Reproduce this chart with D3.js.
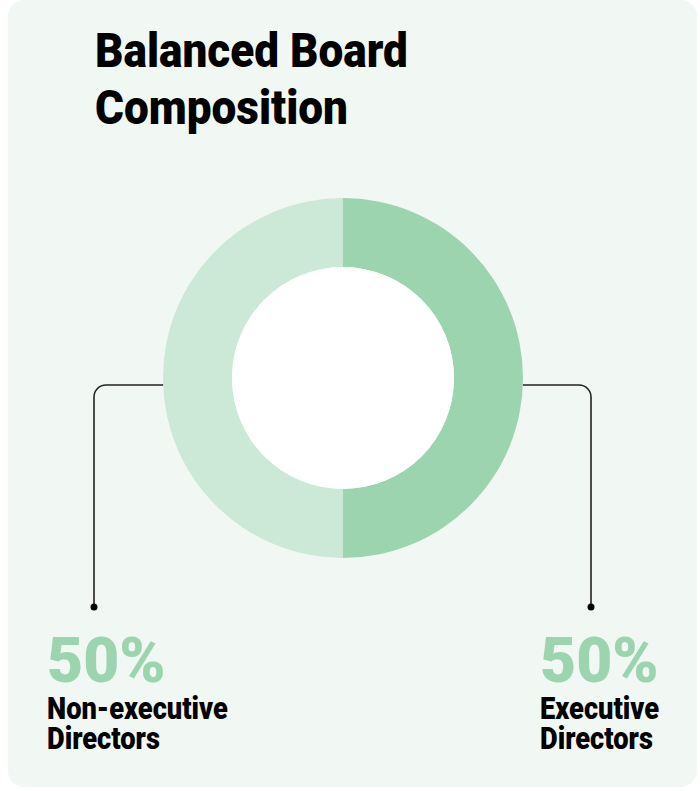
<!DOCTYPE html>
<html>
<head>
<meta charset="utf-8">
<script src="https://cdn.jsdelivr.net/npm/d3@7"></script>
<style>
  html, body { margin: 0; padding: 0; background: #ffffff; }
  svg { display: block; }
  .cond { font-family: Roboto, "Liberation Sans", sans-serif; font-weight: 900; }
</style>
</head>
<body>
<svg id="chart" width="700" height="791"></svg>
<script>
// Board composition shares
const categories = ["Executive Directors", "Non-executive Directors"];
const shares = [50, 50];
const labelLines = [["Executive", "Directors"], ["Non-executive", "Directors"]];
const sliceColors = ["#9dd4b0", "#cce8d7"];
const titleLines = ["Balanced Board", "Composition"];

const svg = d3.select("#chart");

// Card background
svg.append("rect")
  .attr("x", 8).attr("y", 0)
  .attr("width", 689).attr("height", 787)
  .attr("rx", 16).attr("ry", 16)
  .attr("fill", "#f1f7f3");

// Multi-line text block, narrowed horizontally for a condensed look
function textBlock(x, y, lines, size, lineGap, sx, fill) {
  svg.append("text")
    .attr("class", "cond")
    .attr("transform", `translate(${x},${y}) scale(${sx},1)`)
    .attr("font-size", size)
    .attr("fill", fill)
    .selectAll("tspan")
    .data(lines)
    .join("tspan")
    .attr("x", 0)
    .attr("dy", (d, i) => i === 0 ? 0 : lineGap)
    .text(d => d);
}

// Title
textBlock(95, 67, titleLines, 49, 57, 0.9, "#000");

// Donut
const cx = 343, cy = 378, rOuter = 180, rInner = 111;
const pie = d3.pie().sort(null).value(d => d.value);
const arcs = pie(categories.map((c, i) => ({ name: c, value: shares[i] })));
const arc = d3.arc().innerRadius(rInner).outerRadius(rOuter);

const g = svg.append("g").attr("transform", `translate(${cx},${cy})`);
g.selectAll("path")
  .data(arcs)
  .join("path")
  .attr("d", arc)
  .attr("fill", (d, i) => sliceColors[i]);
g.append("circle").attr("r", rInner).attr("fill", "#ffffff");

// Leader lines from each slice to its label
const lineY = 385, dotY = 607, cornerR = 12;
const xEdgeOffset = Math.sqrt(rOuter * rOuter - (lineY - cy) ** 2);
const leaders = [
  { side: 1, xEdge: cx + xEdgeOffset, xDrop: 591 },
  { side: -1, xEdge: cx - xEdgeOffset, xDrop: 94 }
];
leaders.forEach(l => {
  const p = d3.path();
  p.moveTo(l.xEdge, lineY);
  p.lineTo(l.xDrop - l.side * cornerR, lineY);
  p.arcTo(l.xDrop, lineY, l.xDrop, lineY + cornerR, cornerR);
  p.lineTo(l.xDrop, dotY);
  svg.append("path").attr("d", p.toString())
    .attr("fill", "none").attr("stroke", "#222").attr("stroke-width", 1.6);
  svg.append("circle").attr("cx", l.xDrop).attr("cy", dotY).attr("r", 3.5).attr("fill", "#000");
});

// Value and name labels
const labelX = [540, 47];
arcs.forEach((d, i) => {
  textBlock(labelX[i], 682, [d3.format(".0f")(shares[i]) + "%"], 63, 0, 0.99, sliceColors[0]);
  textBlock(labelX[i], 719, labelLines[i], 31, 30, 0.88, "#000");
});
</script>
</body>
</html>
